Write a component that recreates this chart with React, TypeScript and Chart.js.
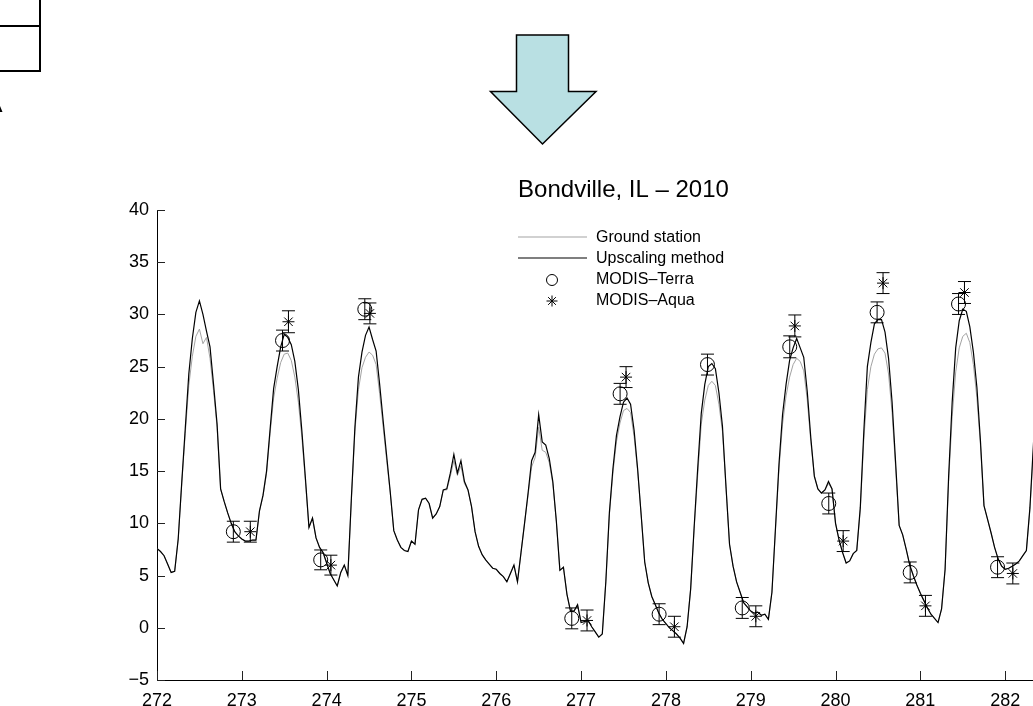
import React, { useEffect, useRef } from 'react';
import { Chart, registerables } from 'chart.js';

Chart.register(...registerables);

// ---------------- DATA ----------------
const startDay = 272; // day of year of the first hourly sample
const samplesPerDay = 24; // hourly samples

// Upscaling method (black line), hourly, °C
const upscaling = [
  7.6, 7.3, 6.9, 6.1, 5.3, 5.4, 8.5, 13.9, 19.1, 24.3, 27.7, 30.2, 31.3, 30.0, 28.4, 26.9, 23.3, 19.5, 13.3, 12.1, 11.0, 10.0, 9.2, 8.8,
  8.5, 8.3, 8.3, 8.4, 8.4, 11.2, 12.7, 15.0, 19.0, 22.9, 25.0, 26.9, 28.1, 27.8, 27.1, 25.5, 22.8, 18.8, 14.3, 9.6, 10.5, 8.6, 7.7, 7.2,
  6.2, 5.2, 4.6, 4.0, 5.3, 6.0, 5.0, 12.4, 19.2, 24.0, 26.4, 28.0, 28.8, 27.6, 26.5, 23.3, 19.8, 16.4, 13.0, 9.3, 8.4, 7.7, 7.4, 7.3,
  8.3, 8.0, 11.3, 12.3, 12.4, 11.9, 10.5, 10.9, 11.6, 13.2, 13.3, 14.8, 16.6, 14.8, 16.0, 14.0, 13.2, 11.6, 9.2, 7.8, 7.0, 6.5, 6.1, 5.7,
  5.6, 5.2, 4.9, 4.4, 5.2, 6.0, 4.4, 7.2, 10.0, 12.9, 16.0, 16.8, 20.4, 17.8, 17.5, 16.2, 14.0, 10.2, 5.5, 5.8, 3.2, 1.6, 1.6, 2.2,
  0.5, 0.6, 0.7, 0.1, -0.4, -0.9, -0.6, 4.4, 11.0, 15.2, 18.4, 20.2, 21.6, 22.0, 21.4, 18.9, 15.2, 10.8, 6.3, 4.3, 3.0, 2.2, 1.4, 0.8,
  0.4, 0.0, -0.3, -0.6, -1.0, -1.5, 0.1, 3.7, 9.7, 15.3, 20.5, 23.3, 25.0, 25.3, 24.8, 22.5, 19.3, 13.5, 8.0, 5.9, 4.4, 3.4, 2.4, 2.0,
  1.6, 1.4, 1.5, 1.2, 1.3, 0.8, 3.4, 9.5, 15.7, 20.4, 23.3, 25.6, 26.8, 27.7, 26.8, 25.9, 22.6, 18.2, 14.5, 13.3, 12.9, 13.2, 14.0, 13.3,
  10.0, 8.4, 7.2, 6.2, 6.4, 7.1, 7.4, 11.5, 18.8, 25.0, 27.3, 29.1, 29.5, 29.5, 28.3, 25.8, 21.6, 15.8, 9.8, 8.9, 7.5, 6.0, 5.0, 4.1,
  3.3, 2.6, 1.9, 1.3, 0.9, 0.5, 1.8, 5.6, 14.5, 21.6, 26.8, 29.4, 30.5, 30.3, 28.8, 26.4, 23.0, 17.9, 11.7, 10.4, 9.1, 7.7, 6.6, 5.9,
  5.6, 5.7, 5.9, 6.1, 6.4, 6.9, 7.4, 11.5, 17.6, 23.5, 27.5,
];

// Ground station (grey line), hourly, °C
const groundStation = [
  7.6, 7.3, 6.9, 6.1, 5.3, 5.4, 8.5, 13.8, 18.6, 23.2, 26.0, 27.9, 28.6, 27.2, 27.8, 25.8, 22.7, 19.2, 13.3, 12.1, 11.0, 10.0, 9.2, 8.8,
  8.5, 8.3, 8.3, 8.4, 8.4, 11.2, 12.6, 14.8, 18.6, 22.0, 23.9, 25.4, 26.2, 26.3, 25.6, 24.0, 21.6, 18.2, 14.0, 9.6, 10.5, 8.6, 7.7, 7.2,
  6.2, 5.2, 4.6, 4.0, 5.3, 6.0, 5.0, 12.2, 18.8, 22.8, 24.9, 25.9, 26.4, 26.1, 25.2, 22.4, 19.2, 16.0, 12.9, 9.3, 8.4, 7.7, 7.4, 7.3,
  8.3, 8.0, 11.3, 12.3, 12.4, 11.9, 10.5, 10.9, 11.6, 13.2, 13.2, 14.5, 16.0, 14.6, 15.5, 13.8, 13.2, 11.6, 9.2, 7.8, 7.0, 6.5, 6.1, 5.7,
  5.6, 5.2, 4.9, 4.4, 5.2, 6.0, 4.4, 7.2, 10.0, 12.7, 15.4, 16.3, 19.2, 17.0, 16.8, 15.8, 13.8, 10.2, 5.5, 5.8, 3.2, 1.6, 1.6, 2.2,
  0.5, 0.6, 0.7, 0.1, -0.4, -0.9, -0.6, 4.4, 10.8, 14.8, 17.8, 19.6, 20.8, 21.0, 20.6, 18.3, 15.0, 10.8, 6.3, 4.3, 3.0, 2.2, 1.4, 0.8,
  0.4, 0.0, -0.3, -0.6, -1.0, -1.5, 0.1, 3.7, 9.5, 14.6, 19.5, 21.8, 23.2, 23.6, 23.2, 21.4, 18.8, 13.5, 8.0, 5.9, 4.4, 3.4, 2.4, 2.0,
  1.6, 1.4, 1.5, 1.2, 1.3, 0.8, 3.4, 9.4, 15.2, 19.5, 22.2, 24.0, 25.2, 25.8, 25.5, 24.6, 21.8, 17.8, 14.6, 13.3, 12.9, 13.2, 13.8, 13.3,
  10.0, 8.4, 7.2, 6.2, 6.4, 7.1, 7.4, 11.3, 18.0, 22.8, 25.0, 26.2, 26.7, 26.8, 26.3, 24.3, 20.6, 15.3, 9.8, 8.9, 7.5, 6.0, 5.0, 4.1,
  3.3, 2.6, 1.9, 1.3, 0.9, 0.5, 1.8, 5.6, 14.0, 20.2, 24.5, 26.8, 27.9, 28.2, 27.3, 25.2, 22.0, 17.5, 11.7, 10.4, 9.1, 7.7, 6.6, 5.9,
  5.6, 5.7, 5.9, 6.1, 6.4, 6.9, 7.4, 11.3, 17.0, 22.0, 25.5,
];

// MODIS-Terra retrievals
const terraDay = [272.90, 273.48, 273.93, 274.45, 276.89, 277.46, 277.92, 278.49, 278.90, 279.46, 279.92, 280.49, 280.88, 281.45, 281.91];
const terraTemp = [9.2, 27.5, 6.5, 30.5, 0.9, 22.4, 1.3, 25.2, 1.9, 26.9, 11.9, 30.2, 5.3, 31.0, 5.8];
const terraErr = [1.0, 1.0, 0.95, 1.0, 1.0, 1.0, 1.0, 1.0, 1.0, 1.05, 1.0, 1.0, 1.0, 1.0, 1.0];

// MODIS-Aqua retrievals
const aquaDay = [273.10, 273.55, 274.05, 274.51, 277.07, 277.53, 278.10, 279.06, 279.52, 280.09, 280.56, 281.06, 281.52, 282.09];
const aquaTemp = [9.2, 29.3, 6.0, 30.1, 0.7, 24.0, 0.1, 1.1, 28.9, 8.3, 33.0, 2.1, 32.1, 5.2];
const aquaErr = [1.0, 1.05, 0.95, 1.0, 1.0, 1.0, 1.0, 1.0, 1.05, 1.0, 1.0, 1.0, 1.05, 1.0];

const xTickValues = [272, 273, 274, 275, 276, 277, 278, 279, 280, 281, 282, 283];
const yTickValues = [-5, 0, 5, 10, 15, 20, 25, 30, 35, 40];

const titleText = 'Bondville, IL \u2013 2010';
const legendLabels = ['Ground station', 'Upscaling method', 'MODIS\u2013Terra', 'MODIS\u2013Aqua'];

// ---------------- STYLE ----------------
const FONT = '"Liberation Sans", Arial, Helvetica, sans-serif';
const GREY = '#a3a3a3';
const BLACK = '#000000';

function series(values: number[]) {
  return values.map((v, i) => ({ x: startDay + i / samplesPerDay, y: v }));
}
function points(days: number[], temps: number[]) {
  return days.map((d, i) => ({ x: d, y: temps[i] }));
}

function drawStar(ctx: CanvasRenderingContext2D, x: number, y: number, r: number) {
  ctx.beginPath();
  for (let k = 0; k < 4; k++) {
    const a = (k * Math.PI) / 4;
    ctx.moveTo(x - Math.cos(a) * r, y - Math.sin(a) * r);
    ctx.lineTo(x + Math.cos(a) * r, y + Math.sin(a) * r);
  }
  ctx.stroke();
}

const figurePlugin = {
  id: 'figureDecor',
  beforeDraw(chart: any) {
    const ctx: CanvasRenderingContext2D = chart.ctx;
    ctx.save();
    ctx.fillStyle = '#ffffff';
    ctx.fillRect(0, 0, chart.width, chart.height);
    // fragment of a flow-chart box (top-left)
    ctx.strokeStyle = BLACK;
    ctx.lineWidth = 2;
    ctx.beginPath();
    ctx.moveTo(40, -2); ctx.lineTo(40, 71);
    ctx.moveTo(-2, 26); ctx.lineTo(40, 26);
    ctx.moveTo(-2, 71); ctx.lineTo(41, 71);
    ctx.stroke();
    ctx.fillStyle = BLACK;
    ctx.beginPath();
    ctx.moveTo(0, 106); ctx.lineTo(2.5, 112); ctx.lineTo(0, 112); ctx.closePath();
    ctx.fill();
    // down arrow
    ctx.beginPath();
    ctx.moveTo(516.5, 35);
    ctx.lineTo(568.5, 35);
    ctx.lineTo(568.5, 91.5);
    ctx.lineTo(596, 91.5);
    ctx.lineTo(542.5, 144);
    ctx.lineTo(490.5, 91.5);
    ctx.lineTo(516.5, 91.5);
    ctx.closePath();
    ctx.fillStyle = '#b9e0e3';
    ctx.fill();
    ctx.lineWidth = 1.5;
    ctx.strokeStyle = BLACK;
    ctx.stroke();
    ctx.restore();
  },
  afterDatasetsDraw(chart: any) {
    const ctx: CanvasRenderingContext2D = chart.ctx;
    const xs = chart.scales.x;
    const ys = chart.scales.y;
    const area = chart.chartArea;
    ctx.save();
    // error bars
    ctx.strokeStyle = BLACK;
    ctx.lineWidth = 1;
    const cap = 6.5;
    const bars = (days: number[], temps: number[], errs: number[]) => {
      days.forEach((d, i) => {
        const px = xs.getPixelForValue(d);
        const pTop = ys.getPixelForValue(temps[i] + errs[i]);
        const pBot = ys.getPixelForValue(temps[i] - errs[i]);
        ctx.beginPath();
        ctx.moveTo(px, pTop); ctx.lineTo(px, pBot);
        ctx.moveTo(px - cap, pTop); ctx.lineTo(px + cap, pTop);
        ctx.moveTo(px - cap, pBot); ctx.lineTo(px + cap, pBot);
        ctx.stroke();
      });
    };
    bars(terraDay, terraTemp, terraErr);
    bars(aquaDay, aquaTemp, aquaErr);
    // inward tick marks (MATLAB style)
    ctx.strokeStyle = '#222';
    ctx.lineWidth = 1;
    ctx.beginPath();
    yTickValues.forEach((v) => {
      const py = Math.round(ys.getPixelForValue(v)) + 0.5;
      ctx.moveTo(area.left, py); ctx.lineTo(area.left + 8, py);
    });
    xTickValues.forEach((v) => {
      const px = Math.round(xs.getPixelForValue(v)) + 0.5;
      ctx.moveTo(px, area.bottom); ctx.lineTo(px, area.bottom - 9);
    });
    ctx.stroke();
    ctx.restore();
  },
  afterDraw(chart: any) {
    const ctx: CanvasRenderingContext2D = chart.ctx;
    const area = chart.chartArea;
    ctx.save();
    // title, centred over the axes
    ctx.fillStyle = BLACK;
    ctx.font = `24px ${FONT}`;
    ctx.textAlign = 'center';
    ctx.textBaseline = 'alphabetic';
    ctx.fillText(titleText, (area.left + area.right) / 2, 197);
    // legend
    const rowY = [238, 259, 280, 301];
    ctx.font = `16px ${FONT}`;
    ctx.textAlign = 'left';
    ctx.textBaseline = 'middle';
    legendLabels.forEach((label, i) => {
      const y = rowY[i];
      if (i < 2) {
        ctx.strokeStyle = i === 0 ? GREY : BLACK;
        ctx.lineWidth = i === 0 ? 1 : 1.2;
        ctx.beginPath();
        ctx.moveTo(518, y - 1); ctx.lineTo(587, y - 1);
        ctx.stroke();
      } else if (i === 2) {
        ctx.strokeStyle = BLACK;
        ctx.lineWidth = 1;
        ctx.beginPath();
        ctx.arc(552, y, 5.5, 0, Math.PI * 2);
        ctx.stroke();
      } else {
        ctx.strokeStyle = BLACK;
        ctx.lineWidth = 1;
        drawStar(ctx, 552, y, 5.5);
      }
      ctx.fillStyle = BLACK;
      ctx.fillText(label, 596, y);
    });
    ctx.restore();
  },
};

export default function App() {
  const canvasRef = useRef<HTMLCanvasElement | null>(null);

  useEffect(() => {
    if (!canvasRef.current) return;
    const tickFont = { family: FONT, size: 18 };
    const chart = new Chart(canvasRef.current, {
      type: 'line',
      data: {
        datasets: [
          {
            label: legendLabels[0],
            data: series(groundStation),
            borderColor: GREY,
            borderWidth: 1,
            pointRadius: 0,
            fill: false,
            order: 4,
          },
          {
            label: legendLabels[1],
            data: series(upscaling),
            borderColor: BLACK,
            borderWidth: 1.2,
            pointRadius: 0,
            fill: false,
            order: 3,
          },
          {
            label: legendLabels[2],
            data: points(terraDay, terraTemp),
            showLine: false,
            pointStyle: 'circle',
            pointRadius: 7,
            pointBorderWidth: 1,
            pointBorderColor: BLACK,
            pointBackgroundColor: 'rgba(0,0,0,0)',
            borderColor: BLACK,
            order: 2,
          },
          {
            label: legendLabels[3],
            data: points(aquaDay, aquaTemp),
            showLine: false,
            pointStyle: 'star',
            pointRadius: 6,
            pointBorderWidth: 1,
            pointBorderColor: BLACK,
            pointBackgroundColor: 'rgba(0,0,0,0)',
            borderColor: BLACK,
            order: 1,
          },
        ] as any,
      },
      options: {
        animation: false,
        responsive: false,
        devicePixelRatio: 1,
        events: [],
        layout: { padding: { left: 0, top: 210, right: 50, bottom: 0 } },
        elements: { line: { tension: 0 } },
        plugins: {
          legend: { display: false },
          tooltip: { enabled: false },
          title: { display: false },
        },
        scales: {
          x: {
            type: 'linear',
            min: 272,
            max: 283,
            afterBuildTicks: (s: any) => {
              s.ticks = xTickValues.map((v) => ({ value: v }));
            },
            afterFit: (s: any) => {
              s.height = 26;
            },
            ticks: {
              font: tickFont,
              color: BLACK,
              padding: 10,
              maxRotation: 0,
              autoSkip: false,
              callback: (v: any) => String(v),
            },
            grid: { display: false, drawTicks: false },
            border: { display: true, color: BLACK, width: 1 },
          },
          y: {
            type: 'linear',
            min: -5,
            max: 40,
            afterBuildTicks: (s: any) => {
              s.ticks = yTickValues.map((v) => ({ value: v }));
            },
            afterFit: (s: any) => {
              s.width = 157;
            },
            ticks: {
              font: tickFont,
              color: BLACK,
              padding: 8,
              autoSkip: false,
              callback: (v: any) => String(v).replace('-', '\u2212'),
            },
            grid: { display: false, drawTicks: false },
            border: { display: true, color: BLACK, width: 1 },
          },
        },
      } as any,
      plugins: [figurePlugin],
    });
    return () => chart.destroy();
  }, []);

  return (
    <div
      style={{
        position: 'absolute',
        left: 0,
        top: 0,
        width: 1033,
        height: 706,
        overflow: 'hidden',
        background: '#fff',
      }}
    >
      <canvas ref={canvasRef} width={1140} height={706} style={{ width: 1140, height: 706, display: 'block' }} />
    </div>
  );
}
